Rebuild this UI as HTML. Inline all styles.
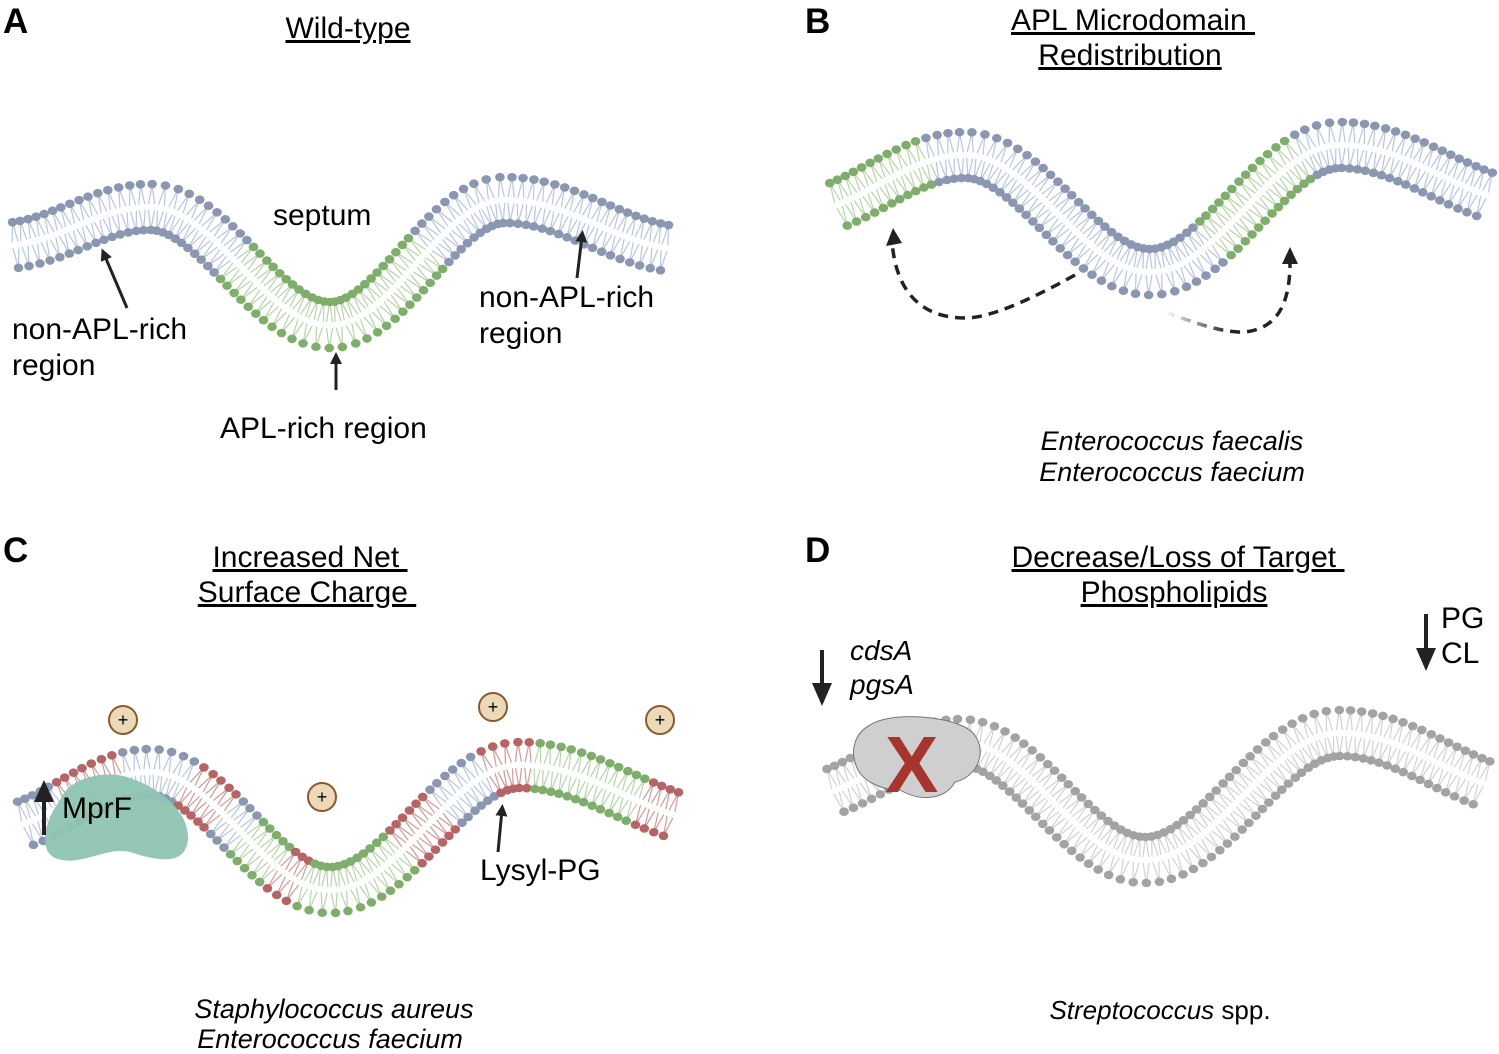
<!DOCTYPE html>
<html><head><meta charset="utf-8"><style>
body{margin:0;background:#fff;}
svg{display:block;font-family:"Liberation Sans",sans-serif;}
.t{font-size:30px;text-decoration:underline;text-anchor:middle;}
.L{font-size:35px;font-weight:bold;}
.l{font-size:30px;}
.i{font-size:27px;font-style:italic;text-anchor:middle;}
</style></head><body>
<svg id="s" width="1499" height="1054" viewBox="0 0 1499 1054" xmlns="http://www.w3.org/2000/svg">
<defs>
<marker id="ah" markerWidth="12" markerHeight="12" refX="6" refY="6" orient="auto" markerUnits="userSpaceOnUse"><path d="M0,0 L12,6 L0,12 z" fill="#222"/></marker>
<linearGradient id="fade" x1="1165" y1="0" x2="1230" y2="0" gradientUnits="userSpaceOnUse"><stop offset="0" stop-color="#222" stop-opacity="0"/><stop offset="1" stop-color="#222"/></linearGradient>
</defs>
<g id="mem"></g>
<text class="L" x="3" y="33">A</text>
<text class="L" x="805" y="33">B</text>
<text class="L" x="3" y="562">C</text>
<text class="L" x="805" y="562">D</text>
<text class="t" x="348" y="38">Wild-type</text>
<text class="t" x="1133" y="30">APL Microdomain&#160;</text>
<text class="t" x="1130" y="65">Redistribution</text>
<text class="t" x="310" y="567">Increased Net&#160;</text>
<text class="t" x="307" y="602">Surface Charge&#160;</text>
<text class="t" x="1178" y="567">Decrease/Loss of Target&#160;</text>
<text class="t" x="1174" y="602">Phospholipids</text>
<text class="l" x="273" y="225">septum</text>
<text class="l" x="12" y="339">non-APL-rich</text>
<text class="l" x="12" y="375">region</text>
<text class="l" x="479" y="307">non-APL-rich</text>
<text class="l" x="479" y="343">region</text>
<text class="l" x="220" y="438">APL-rich region</text>
<g stroke="#222" stroke-width="3" fill="none">
<line x1="127" y1="308" x2="104" y2="254" marker-end="url(#ah)"/>
<line x1="577" y1="278" x2="582" y2="236" marker-end="url(#ah)"/>
<line x1="336" y1="390" x2="336" y2="358" marker-end="url(#ah)"/>
<line x1="498" y1="852" x2="502" y2="810" marker-end="url(#ah)"/>
</g>
<text class="i" x="1172" y="450">Enterococcus faecalis</text>
<text class="i" x="1172" y="481">Enterococcus faecium</text>
<text class="i" x="334" y="1018">Staphylococcus aureus</text>
<text class="i" x="330" y="1048">Enterococcus faecium</text>
<text x="1160" y="1019" style="font-size:26px;text-anchor:middle"><tspan font-style="italic">Streptococcus</tspan> spp.</text>
<text class="l" x="480" y="880">Lysyl-PG</text>
<path d="M1075,275 C1030,300 990,318 965,318 C920,318 895,290 892,240" stroke="#222" stroke-width="3.5" fill="none" stroke-dasharray="10,7"/>
<path d="M886,246 L893,228 L902,243 z" fill="#222"/>
<path d="M1165,312 C1200,325 1225,333 1245,332 C1280,328 1290,300 1290,262" stroke="url(#fade)" stroke-width="3.5" fill="none" stroke-dasharray="10,7"/>
<path d="M1282,264 L1290,247 L1298,264 z" fill="#222"/>
<g id="mem2"></g>
<path d="M870,725 C890,712 940,716 960,725 C990,735 985,775 955,782 C945,800 920,802 900,790 C880,790 860,780 856,765 C850,750 855,733 870,725 z" fill="#cfcfcf" stroke="#777" stroke-width="1"/>
<text x="885" y="792" style="font-size:80px;font-weight:bold;fill:#a8342e">X</text>
<text x="850" y="660" style="font-size:28px;font-style:italic">cdsA</text>
<text x="850" y="694" style="font-size:28px;font-style:italic">pgsA</text>
<line x1="822" y1="650" x2="822" y2="685" stroke="#222" stroke-width="4"/>
<path d="M812,683 L822,706 L832,683 z" fill="#222"/>
<text class="l" x="1441" y="628">PG</text>
<text class="l" x="1441" y="663">CL</text>
<line x1="1426" y1="614" x2="1426" y2="650" stroke="#222" stroke-width="4"/>
<path d="M1416,648 L1426,671 L1436,648 z" fill="#222"/>
<path d="M60,800 C70,775 110,770 130,778 C165,790 190,815 188,840 C185,865 160,862 130,852 C105,846 80,868 55,858 C38,850 45,820 60,800 z" fill="#8fc4b2" opacity="0.95"/>
<line x1="44" y1="835" x2="44" y2="800" stroke="#222" stroke-width="4"/>
<path d="M34,802 L44,780 L54,802 z" fill="#222"/>
<text class="l" x="62" y="818">MprF</text>
<g id="ions"></g>
</svg>
<script>
var NS="http://www.w3.org/2000/svg";
var mem=document.getElementById('mem');
var C={b:['#8b97b0','#b9c5df'],g:['#7fae6c','#b8d4aa'],r:['#b56565','#d49898'],k:['#a3a3a3','#d2d2d2']};
function yAt(p,x){
 for(var i=0;i<p.length-1;i++){
  if(x<=p[i+1][0]){var t=(x-p[i][0])/(p[i+1][0]-p[i][0]);return p[i][1]+(p[i+1][1]-p[i][1])*(1-Math.cos(Math.PI*t))/2;}
 }
 return p[p.length-1][1];
}
function el(n,a){var e=document.createElementNS(NS,n);for(var k in a)e.setAttribute(k,a[k]);mem.appendChild(e);return e;}
function membrane(pts,x0,x1,colf,half){
 var d=[];for(var x=x0;x<=x1;x+=0.5)d.push([x,yAt(pts,x)]);
 var acc=0,next=0,step=9.5;
 for(var i=1;i<d.length-1;i++){
  var dx=d[i+1][0]-d[i-1][0],dy=d[i+1][1]-d[i-1][1],L=Math.hypot(dx,dy);
  acc+=Math.hypot(d[i][0]-d[i-1][0],d[i][1]-d[i-1][1]);
  if(acc<next)continue; next+=step;
  var nx=-dy/L,ny=dx/L,x=d[i][0],y=d[i][1];
  var c=C[colf(x)];
  [-1,1].forEach(function(s){
   var hx=x+s*nx*half,hy=y+s*ny*half;
   el('line',{x1:hx,y1:hy,x2:x+s*nx*3-dx/L*3,y2:y+s*ny*3-dy/L*3,stroke:c[1],'stroke-width':1.2});
   el('line',{x1:hx,y1:hy,x2:x+s*nx*3+dx/L*3,y2:y+s*ny*3+dy/L*3,stroke:c[1],'stroke-width':1.2});
  });
  [-1,1].forEach(function(s){
   el('ellipse',{cx:x+s*nx*half,cy:y+s*ny*half,rx:4.8,ry:4.3,fill:c[0]});
  });
 }
}
function seg(list){return function(x){for(var i=0;i<list.length;i++)if(x<list[i][0])return list[i][1];return list[list.length-1][1];};}
membrane([[0,246],[150,207],[330,325],[505,200],[690,250]],15,670,seg([[237,'b'],[430,'g'],[9999,'b']]),23);
membrane([[790,215],[965,155],[1150,272],[1340,145],[1540,205]],838,1490,seg([[925,'g'],[1212,'b'],[1305,'g'],[9999,'b']]),23);
membrane([[-10,830],[150,772],[330,890],[520,765],[730,825]],25,680,seg([[60,'b'],[125,'r'],[185,'b'],[225,'r'],[245,'b'],[280,'g'],[305,'r'],[400,'g'],[440,'r'],[485,'b'],[535,'r'],[640,'g'],[9999,'r']]),23);
membrane([[790,800],[960,742],[1145,860],[1340,733],[1540,795]],835,1490,function(){return 'k';},23);
var ions=document.getElementById('ions');
[[123,720],[322,797],[493,707],[660,720]].forEach(function(p){
 var c=document.createElementNS(NS,'circle');c.setAttribute('cx',p[0]);c.setAttribute('cy',p[1]);c.setAttribute('r',14);c.setAttribute('fill','#ecd9b8');c.setAttribute('stroke','#8a5a2e');c.setAttribute('stroke-width',2);ions.appendChild(c);
 var t=document.createElementNS(NS,'text');t.setAttribute('x',p[0]);t.setAttribute('y',p[1]+6);t.setAttribute('text-anchor','middle');t.setAttribute('font-size','18');t.textContent='+';ions.appendChild(t);
});
</script>
</body></html>
